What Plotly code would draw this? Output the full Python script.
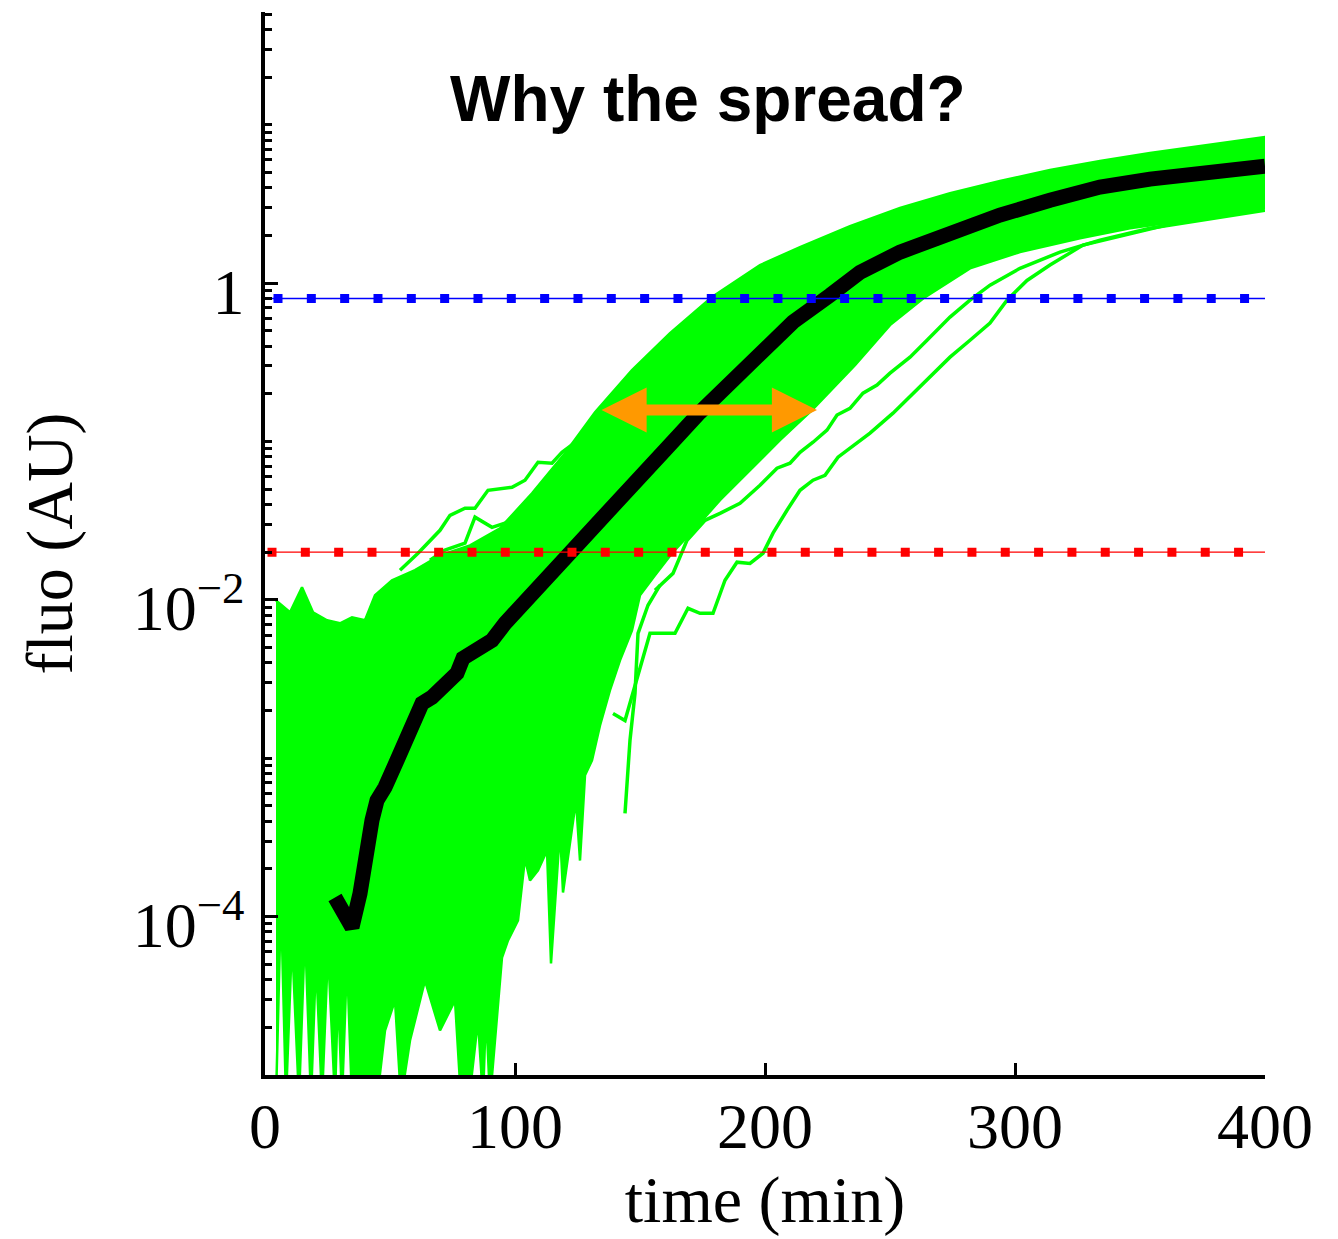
import numpy as np
import plotly.graph_objects as go

# ---------------- data ----------------
# time (min) / fluorescence (AU)

# mean trajectory (black)
mean_t = [28, 34.8, 38, 40, 42.8, 44.8, 48, 52.8, 58.8, 62.8, 66.8, 72, 76.8, 79.2, 85.2,
          90.8, 96, 101.2, 106.8, 113.2, 120, 134, 146.8, 160, 174, 184.8, 198, 211.2, 226,
          238, 254, 274, 294, 314, 334, 354, 374, 400]
mean_fluo = [1.32e-4, 8.55e-5, 1.40e-4, 2.51e-4, 4.06e-4, 5.42e-4, 6.55e-4, 9.7e-4, 1.73e-3,
             2.22e-3, 2.43e-3, 2.81e-3, 3.44e-3, 4.28e-3, 4.81e-3, 5.56e-3, 7.11e-3, 8.59e-3,
             0.0107, 0.0137, 0.0183, 0.0318, 0.0546, 0.0881, 0.153, 0.227, 0.366, 0.568, 0.839,
             1.17, 1.57, 2.10, 2.69, 3.34, 4.04, 4.54, 4.95, 5.48]

# envelope of the dense bundle of single-cell traces: upper edge (left -> right)
band_top_t = [4.4, 10, 14.8, 19.2, 24.8, 30, 34.8, 40, 44, 50.8, 60, 70, 82, 94, 106.8, 120,
              132, 146.8, 162, 178.8, 198, 214, 234, 254, 274, 294, 314, 334, 354, 374, 400]
band_top_fluo = [0.0099, 8.35e-3, 0.0120, 8.35e-3, 7.43e-3, 7.11e-3, 7.76e-3, 7.43e-3, 0.0107,
                 0.0133, 0.0154, 0.0191, 0.0221, 0.0283, 0.0471, 0.0843, 0.153, 0.282, 0.483,
                 0.816, 1.30, 1.69, 2.29, 2.98, 3.70, 4.41, 5.18, 5.90, 6.63, 7.33, 8.36]

# lower edge of the bundle (right -> left), ending in the noisy region
band_bottom_t = [400, 374, 346, 326, 302, 282, 264, 250, 236, 218.8, 206, 194, 182, 172, 162.8,
                 156, 150, 146.8, 142, 138, 134, 130.8, 128, 126, 124.4, 119.2, 118, 114.4,
                 112.8, 109.2, 106, 104, 101.2, 97.2, 94.8]
band_bottom_fluo = [2.98, 2.57, 2.22, 1.92, 1.57, 1.24, 0.816, 0.543, 0.303, 0.158, 0.102,
                    0.0659, 0.0426, 0.0283, 0.0197, 0.0143, 0.0107, 6.43e-3, 4.15e-3, 2.69e-3,
                    1.61e-3, 9.7e-4, 7.8e-4, 2.26e-4, 5.42e-4, 1.42e-4, 3.51e-4, 5.06e-5,
                    2.62e-4, 1.96e-4, 1.69e-4, 2.33e-4, 9.46e-5, 7.08e-5, 5.52e-5]

# noisy low-signal spikes at early times (right -> left)
spike_t = [90, 88.4, 87.2, 85.2, 81.6, 80, 78.4, 76, 70, 64, 58, 54.4, 52, 48, 44.8, 42.8,
           34.8, 32.8, 30.8, 29.2, 28, 25.2, 22.8, 20.4, 18.4, 16, 13.6, 10.8, 8.4, 6.4, 4.4]
spike_fluo = [7e-6, 2.55e-5, 7e-6, 2.21e-5, 7e-6, 7e-6, 7e-6, 2.96e-5, 1.91e-5, 3.95e-5,
              1.65e-5, 7e-6, 2.96e-5, 1.91e-5, 7e-6, 7e-6, 7e-6, 5.28e-5, 7e-6, 3.42e-5, 7e-6,
              6.12e-5, 7e-6, 5.28e-5, 7e-6, 8.18e-5, 7e-6, 7.08e-5, 7e-6, 1.26e-4, 7e-6]

# individual outlying traces
early_a_t = [54, 61.2, 70, 74, 80, 84, 89.2, 98.8, 104, 109.2, 114.8, 118.8, 128, 134]
early_a_fluo = [0.0154, 0.0197, 0.0275, 0.0342, 0.0379, 0.0379, 0.0492, 0.0514, 0.0570, 0.0740,
                0.0729, 0.0855, 0.1096, 0.140]
early_b_t = [66, 72, 80, 84, 90.8, 96, 102, 110, 118]
early_b_fluo = [0.0178, 0.0206, 0.0228, 0.0333, 0.0287, 0.0305, 0.0342, 0.0426, 0.057]

late_a_t = [139.2, 144, 154, 164, 169.2, 174, 179.2, 184, 188.8, 194, 199.2, 203.2, 208.8, 214,
            219.2, 224, 229.2, 234, 242, 251.2, 259.2, 266, 274, 282, 290, 296.8, 304.8, 314,
            327.2, 347.2, 374, 400]
late_a_fluo = [1.92e-3, 1.73e-3, 6.15e-3, 6.15e-3, 8.85e-3, 8.22e-3, 8.22e-3, 0.0133, 0.0173,
               0.0170, 0.0197, 0.0264, 0.0368, 0.0492, 0.0570, 0.0612, 0.0796, 0.0908, 0.113,
               0.151, 0.202, 0.255, 0.341, 0.436, 0.559, 0.781, 1.04, 1.30, 1.74, 2.07, 2.61, 3.02]
late_b_t = [156, 163.2, 168.8, 176, 182, 190, 198, 204.8, 210, 214, 219.2, 224.8, 228.8, 234,
            239.2, 244.8, 250, 258, 264.8, 274, 282, 290, 302, 318, 334, 354, 400]
late_b_fluo = [0.0115, 0.0147, 0.0238, 0.0318, 0.0352, 0.0407, 0.0530, 0.0678, 0.0729, 0.0855,
               0.0990, 0.118, 0.147, 0.162, 0.202, 0.227, 0.270, 0.341, 0.436, 0.610, 0.781,
               0.971, 1.24, 1.57, 1.87, 2.22, 2.89]
late_c_t = [144, 146, 148, 149.2, 153.2, 158]
late_c_fluo = [4.49e-4, 1.30e-3, 2.57e-3, 6.15e-3, 9.25e-3, 0.0124]

# thresholds
high_threshold = 0.8
low_threshold = 0.02

# spread arrow
arrow_t_left = 134
arrow_t_right = 220.8
arrow_level = 0.158

# axis ticks
x_tick_vals = [0, 100, 200, 300, 400]
x_tick_text = ["0", "100", "200", "300", "400"]
y_tick_vals = [1e-4, 1e-2, 1]
y_tick_text = ["10<sup>\u22124</sup>", "10<sup>\u22122</sup>", "1"]
y_minor_vals = [m * 10.0 ** d for d in range(-5, 2) for m in range(1, 10)
                if not (m == 1 and d in (-4, -2, 0)) and m * 10.0 ** d <= 50]

title_text = "Why the spread?"
x_title = "time (min)"
y_title = "fluo (AU)"

# ---------------- figure ----------------
GREEN = "#00FF00"
SERIF = "Liberation Serif"

fig = go.Figure()

fig.add_trace(go.Scatter(
    x=band_top_t + band_bottom_t + spike_t,
    y=band_top_fluo + band_bottom_fluo + spike_fluo,
    mode="lines", fill="toself", fillcolor=GREEN,
    line=dict(color=GREEN, width=2.5), hoverinfo="skip", showlegend=False))

for tt, ff in [(early_a_t, early_a_fluo), (early_b_t, early_b_fluo),
               (late_a_t, late_a_fluo), (late_b_t, late_b_fluo), (late_c_t, late_c_fluo)]:
    fig.add_trace(go.Scatter(x=tt, y=ff, mode="lines", line=dict(color=GREEN, width=3.5),
                             hoverinfo="skip", showlegend=False))

fig.add_trace(go.Scatter(x=mean_t, y=mean_fluo, mode="lines",
                         line=dict(color="black", width=15), hoverinfo="skip",
                         showlegend=False))

for level, color, dot_start in [(high_threshold, "#0000FF", 3.4), (low_threshold, "#FF0000", 1.0)]:
    fig.add_trace(go.Scatter(x=[0, 401], y=[level, level], mode="lines",
                             line=dict(color=color, width=1.3), hoverinfo="skip",
                             showlegend=False))
    fig.add_trace(go.Scatter(x=[dot_start, 401], y=[level, level], mode="lines",
                             line=dict(color=color, width=9, dash="9px,24.33px"),
                             hoverinfo="skip", showlegend=False))

fig.add_annotation(
    x=arrow_t_right, y=np.log10(arrow_level), ax=arrow_t_left, ay=np.log10(arrow_level),
    xref="x", yref="y", axref="x", ayref="y", text="", showarrow=True,
    arrowside="end+start", arrowhead=2, startarrowhead=2, arrowsize=0.82,
    startarrowsize=0.82, arrowwidth=11, arrowcolor="#FF9900", standoff=0, startstandoff=0)

fig.add_annotation(
    x=0.4425, y=0.918, xref="paper", yref="paper", text="<b>" + title_text + "</b>",
    showarrow=False, xanchor="center", yanchor="middle",
    font=dict(family="Liberation Sans", size=64, color="black"))

fig.update_xaxes(
    range=[0, 400], showline=True, linecolor="black", linewidth=3.5, mirror=False,
    ticks="inside", ticklen=12, tickwidth=3, tickcolor="black",
    tickmode="array", tickvals=x_tick_vals, ticktext=x_tick_text,
    tickfont=dict(family=SERIF, size=64, color="black"), ticklabelstandoff=-8,
    showgrid=False, zeroline=False,
    title=dict(text=x_title, font=dict(family=SERIF, size=66, color="black"), standoff=16))

fig.update_yaxes(
    type="log", range=[-5, 1.712], showline=True, linecolor="black", linewidth=3.5,
    mirror=False, ticks="inside", ticklen=13, tickwidth=3, tickcolor="black",
    tickmode="array", tickvals=y_tick_vals, ticktext=y_tick_text,
    tickfont=dict(family=SERIF, size=64, color="black"),
    ticklabelshift=8, ticklabelstandoff=4,
    minor=dict(ticks="inside", ticklen=7, tickwidth=3, tickcolor="black",
               tickmode="array", tickvals=y_minor_vals, showgrid=False),
    showgrid=False, zeroline=False,
    title=dict(text=y_title, font=dict(family=SERIF, size=66, color="black"), standoff=40))

fig.update_layout(
    width=1338, height=1239, margin=dict(l=265, r=73, t=12, b=164),
    paper_bgcolor="white", plot_bgcolor="white", showlegend=False,
    font=dict(family=SERIF, color="black"))

fig.write_html("out.html", config={"displayModeBar": False},
               post_script="document.body.style.margin='0px';")
